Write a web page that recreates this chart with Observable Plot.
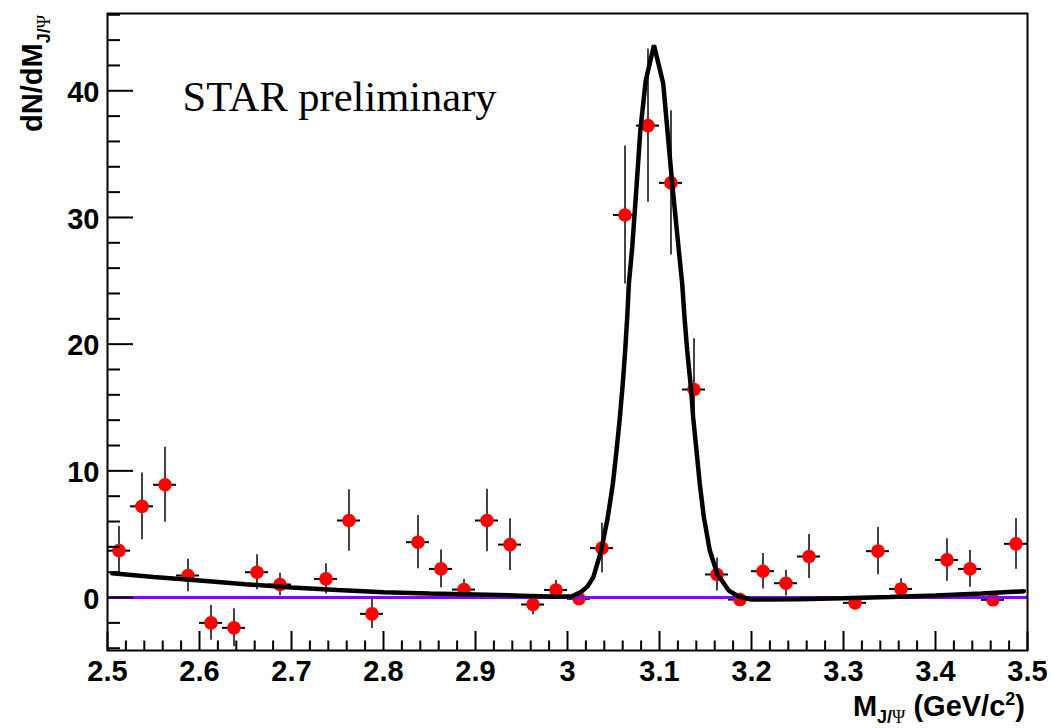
<!DOCTYPE html>
<html>
<head>
<meta charset="utf-8">
<script src="https://cdn.jsdelivr.net/npm/d3@7"></script>
<script src="https://cdn.jsdelivr.net/npm/@observablehq/plot@0.6"></script>
<style>
  html, body { margin: 0; padding: 0; background: #fff; }
  #chart svg { display: block; }
</style>
</head>
<body>
<div id="chart"></div>
<script>
// ---- data ----
const binCenters = [2.5125, 2.5375, 2.5625, 2.5875, 2.6125, 2.6375, 2.6625, 2.6875, 2.7375, 2.7625,
  2.7875, 2.8375, 2.8625, 2.8875, 2.9125, 2.9375, 2.9625, 2.9875, 3.0125, 3.0375,
  3.0625, 3.0875, 3.1125, 3.1375, 3.1625, 3.1875, 3.2125, 3.2375, 3.2625, 3.3125,
  3.3375, 3.3625, 3.4125, 3.4375, 3.4625, 3.4875];
const counts = [3.7, 7.2, 8.9, 1.74, -2.0, -2.39, 2.0, 1.03, 1.47, 6.08,
  -1.29, 4.37, 2.26, 0.63, 6.08, 4.18, -0.55, 0.6, -0.1, 3.9,
  30.2, 37.25, 32.73, 16.42, 1.82, -0.16, 2.08, 1.13, 3.24, -0.42,
  3.66, 0.68, 2.97, 2.26, -0.18, 4.24];
const errors = [1.9, 2.63, 2.96, 1.28, 1.38, 1.5, 1.38, 0.88, 1.19, 2.43,
  1.15, 2.1, 1.49, 0.79, 2.46, 2.04, 0.8, 0.75, 0.5, 1.97,
  5.45, 6.05, 5.7, 4.0, 1.3, 0.5, 1.4, 1.0, 1.74, 0.5,
  1.87, 0.8, 1.68, 1.45, 0.5, 2.0];
const binHalfWidth = 0.0125;

const fitX = [2.505, 2.55, 2.6, 2.65, 2.7, 2.75, 2.8, 2.85, 2.9, 2.95, 2.99, 3.005, 3.015, 3.022, 3.028,
  3.0366, 3.0438, 3.0493, 3.0533, 3.0569, 3.0601, 3.0627, 3.0649, 3.0667, 3.0703, 3.075, 3.0792,
  3.085, 3.094, 3.104, 3.1138, 3.121, 3.1247, 3.1272, 3.1301, 3.1345, 3.1366, 3.1402, 3.1438,
  3.1482, 3.1547, 3.1627, 3.1753, 3.186, 3.2, 3.25, 3.3, 3.35, 3.4, 3.45, 3.496];
const fitY = [1.92, 1.62, 1.34, 1.05, 0.8, 0.6, 0.42, 0.32, 0.24, 0.15, 0.06, 0.1, 0.45, 0.9, 1.6,
  3.7, 6.34, 8.97, 11.6, 14.2, 16.9, 19.5, 22.1, 24.76, 27.6, 32.4, 36.9,
  40.8, 43.6, 40.6, 32.7, 27.4, 24.76, 22.1, 19.5, 16.3, 14.2, 11.6, 8.97,
  6.34, 3.71, 1.87, 0.55, 0.08, -0.15, -0.14, -0.05, 0.05, 0.16, 0.32, 0.5];

const xMajorTicks = [2.5, 2.6, 2.7, 2.8, 2.9, 3.0, 3.1, 3.2, 3.3, 3.4, 3.5];
const xMinorTicks = d3.range(0, 51).map(i => +(2.5 + i * 0.02).toFixed(2)).filter(v => !xMajorTicks.some(t => Math.abs(t - v) < 1e-9));
const yMajorTicks = [0, 10, 20, 30, 40];
const yMinorTicks = d3.range(-4, 47, 2).filter(v => v % 10 !== 0);

const xDomain = [2.5, 3.5];
const yDomain = [-4.18, 46.1];

// ---- layout ----
const W = 1051, H = 728;
const mL = 107, mR = 24, mT = 13, mB = 78;
const pxPerX = (W - mL - mR) / (xDomain[1] - xDomain[0]);
const pxPerY = (H - mT - mB) / (yDomain[1] - yDomain[0]);

const points = binCenters.map((m, i) => ({m, v: counts[i], e: errors[i]}));
const fit = fitX.map((x, i) => ({x, y: fitY[i]}));

const sans = "Liberation Sans, Arial, Helvetica, sans-serif";
const serif = "Liberation Serif, Times New Roman, serif";

const chart = Plot.plot({
  width: W, height: H,
  marginLeft: mL, marginRight: mR, marginTop: mT, marginBottom: mB,
  x: {domain: xDomain, axis: null},
  y: {domain: yDomain, axis: null},
  style: {fontFamily: sans, background: "white"},
  marks: [
    // error bars
    Plot.ruleX(points, {x: "m", y1: d => d.v - d.e, y2: d => d.v + d.e, stroke: "#444", strokeWidth: 2}),
    Plot.ruleY(points, {y: "v", x1: d => d.m - binHalfWidth, x2: d => d.m + binHalfWidth, stroke: "black", strokeWidth: 2}),
    Plot.dot(points, {x: "m", y: "v", r: 6.8, fill: "#ff0000", stroke: "none"}),
    // zero line
    Plot.ruleY([0], {stroke: "#8c00ff", strokeWidth: 3}),
    // fit curve
    Plot.line(fit, {x: "x", y: "y", stroke: "black", strokeWidth: 4.5, strokeLinejoin: "miter"}),
    // axis ticks (inside)
    Plot.ruleX(xMajorTicks, {x: d => d, y1: yDomain[0], y2: yDomain[0] + 19 / pxPerY, stroke: "black", strokeWidth: 2}),
    Plot.ruleX(xMinorTicks, {x: d => d, y1: yDomain[0], y2: yDomain[0] + 9.5 / pxPerY, stroke: "black", strokeWidth: 2}),
    Plot.ruleY(yMajorTicks, {y: d => d, x1: xDomain[0], x2: xDomain[0] + 26 / pxPerX, stroke: "black", strokeWidth: 2}),
    Plot.ruleY(yMinorTicks, {y: d => d, x1: xDomain[0], x2: xDomain[0] + 13 / pxPerX, stroke: "black", strokeWidth: 2}),
    // tick labels
    Plot.text(xMajorTicks, {x: d => d, y: yDomain[0], dy: 21, text: d => String(+d.toFixed(1)),
      fontSize: 29, fontWeight: "bold", fill: "black"}),
    Plot.text(yMajorTicks, {x: xDomain[0], y: d => d, dx: -8, dy: 2, text: d => String(d), textAnchor: "end",
      fontSize: 29, fontWeight: "bold", fill: "black"}),
    Plot.text(["STAR preliminary"], {frameAnchor: "top-left", dx: 75, dy: 67, text: d => d, textAnchor: "start",
      fontSize: 42.5, fontFamily: serif, fill: "black"}),
    Plot.frame({stroke: "black", strokeWidth: 2})
  ]
});

document.getElementById("chart").appendChild(chart);

// axis titles with sub/superscripts
const svg = d3.select(chart);
const yt = svg.append("text")
  .attr("transform", "translate(42,15) rotate(-90)")
  .attr("text-anchor", "end")
  .attr("font-family", sans).attr("font-weight", "bold").attr("font-size", 29).attr("fill", "black");
yt.append("tspan").text("dN/dM");
yt.append("tspan").attr("dy", 8).attr("font-size", 18).text("J/");
yt.append("tspan").attr("font-size", 18).attr("font-family", serif).attr("font-weight", "normal").text("Ψ");

const xt = svg.append("text")
  .attr("x", 1025).attr("y", 716)
  .attr("text-anchor", "end")
  .attr("font-family", sans).attr("font-weight", "bold").attr("font-size", 29).attr("fill", "black");
xt.append("tspan").text("M");
xt.append("tspan").attr("dy", 7).attr("font-size", 18).text("J/");
xt.append("tspan").attr("font-size", 18).attr("font-family", serif).attr("font-weight", "normal").text("Ψ");
xt.append("tspan").attr("dy", -7).text(" (GeV/c");
xt.append("tspan").attr("dy", -11).attr("font-size", 18).text("2");
xt.append("tspan").attr("dy", 11).text(")");
</script>
</body>
</html>
